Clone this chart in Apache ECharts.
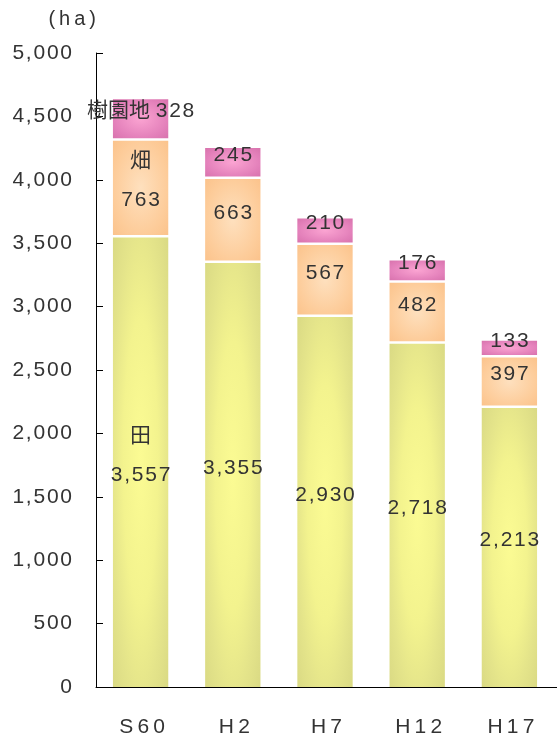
<!DOCTYPE html>
<html>
<head>
    <meta charset="UTF-8">
    <title>耕地面積</title>
    <script src="https://cdn.jsdelivr.net/npm/echarts@6.0.0/dist/echarts.min.js"></script>
    <style>
        html, body { margin: 0; padding: 0; background: #fff; }
        #chart { width: 557px; height: 740px; }
    </style>
</head>
<body>
<div id="chart"></div>
<script>
    // データ
    const categories = ['S60', 'H2', 'H7', 'H12', 'H17'];
    const taValues = [3557, 3355, 2930, 2718, 2213];     // 田
    const hataValues = [763, 663, 567, 482, 397];         // 畑
    const juenValues = [328, 245, 210, 176, 133];         // 樹園地
    const seriesNames = ['田', '畑', '樹園地'];
    const yMax = 5000;
    const yInterval = 500;

    const HAIR = '\u200A';
    const SANS = "'Liberation Sans', 'Noto Sans CJK JP', sans-serif";

    // 文字間を少し空ける
    function spaced(s, sp) {
        return String(s).split('').join(sp || HAIR);
    }
    function fmt(v) {
        return spaced(v.toLocaleString('en-US'));
    }

    // 楕円状のグラデーション(正方形に塗って縦に伸ばす)
    const fills = [
        [[0, '#fbfb93'], [0.45, '#f3f38e'], [0.75, '#e4e48a'], [1, '#dada84']],
        [[0, '#fee0be'], [0.7, '#fdcc9a'], [1, '#fbc38c']],
        [[0, '#fba4d2'], [0.7, '#e380ba'], [1, '#d873ad']]
    ];
    function grad(stops) {
        return new echarts.graphic.RadialGradient(0.5, 0.5, 0.7,
            stops.map(s => ({ offset: s[0], color: s[1] })));
    }

    const layers = [taValues, hataValues, juenValues];
    const bases = categories.map(() => 0);
    const seriesList = layers.map((vals, k) => {
        const data = vals.map((v, i) => {
            const item = [i, v, bases[i]];
            bases[i] += v;
            return item;
        });
        return {
            name: seriesNames[k],
            type: 'custom',
            data: data,
            renderItem: (params, api) => {
                const i = api.value(0), v = api.value(1), b = api.value(2);
                const p0 = api.coord([i, b]);
                const p1 = api.coord([i, b + v]);
                const w = api.size([1, 0])[0] * 0.6;
                const cx = p0[0] - 1.5;
                const top = p1[1] + 1.5;
                const bottom = k === 0 ? p0[1] : p0[1] - 1;
                const h = bottom - top;
                const mid = (top + bottom) / 2;
                let text = fmt(v);
                if (i === 0) {
                    text = k === 2 ? seriesNames[k] + ' ' + text : seriesNames[k] + '\n' + text;
                }
                return {
                    type: 'group',
                    children: [
                        {
                            type: 'rect',
                            x: cx,
                            y: mid,
                            scaleY: h / w,
                            shape: { x: -w / 2, y: -w / 2, width: w, height: w },
                            style: { fill: grad(fills[k]) }
                        },
                        {
                            type: 'text',
                            x: cx,
                            y: mid - 7,
                            style: {
                                text: text,
                                fill: '#333',
                                fontFamily: SANS,
                                fontSize: 21,
                                lineHeight: 39,
                                align: 'center',
                                verticalAlign: 'middle'
                            }
                        }
                    ]
                };
            }
        };
    });

    const chart = echarts.init(document.getElementById('chart'));
    chart.setOption({
        animation: false,
        grid: { left: 96, right: 0, top: 53, bottom: 53 },
        xAxis: {
            type: 'category',
            data: categories,
            axisLine: { lineStyle: { color: '#000', width: 1 } },
            axisTick: { inside: true, length: 7, lineStyle: { color: '#000' } },
            axisLabel: {
                margin: 30,
                color: '#333',
                fontFamily: SANS,
                fontSize: 21,
                formatter: v => spaced(v, '\u2009')
            }
        },
        yAxis: {
            type: 'value',
            min: 0,
            max: yMax,
            interval: yInterval,
            name: spaced('(ha)', '\u2009'),
            nameLocation: 'end',
            nameGap: 24,
            nameTextStyle: { color: '#333', fontFamily: SANS, fontSize: 20, align: 'right' },
            axisLine: { show: true, lineStyle: { color: '#000', width: 1 } },
            axisTick: { show: true, inside: true, length: 7, lineStyle: { color: '#000' } },
            splitLine: { show: false },
            axisLabel: {
                margin: 24,
                color: '#333',
                fontFamily: SANS,
                fontSize: 21,
                formatter: v => fmt(v)
            }
        },
        series: seriesList
    });
</script>
</body>
</html>
